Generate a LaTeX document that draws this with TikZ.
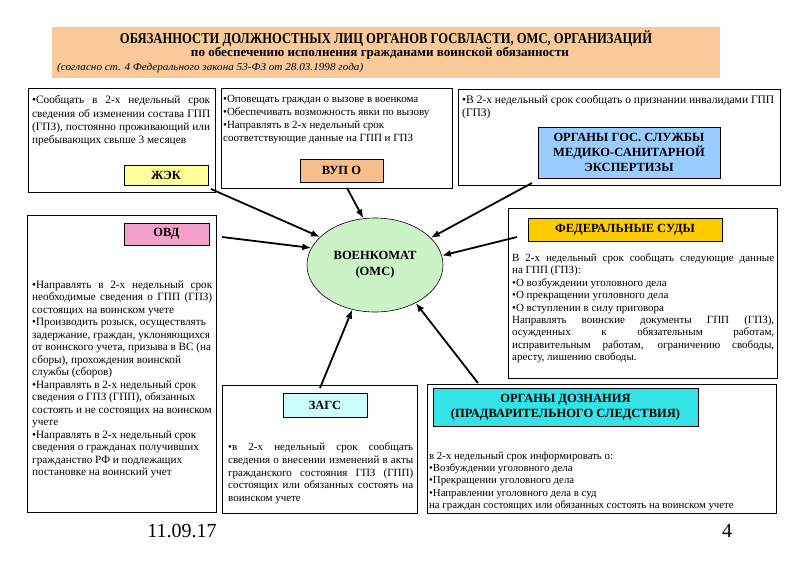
\documentclass[tikz,border=0pt]{standalone}
\usepackage{fontspec}
\usepackage{graphicx}
\setmainfont{Liberation Serif}
\usetikzlibrary{shapes.geometric,arrows.meta}
\definecolor{hdr}{HTML}{F9C99A}
\definecolor{czhek}{HTML}{FFFF99}
\definecolor{cvup}{HTML}{F7BE8A}
\definecolor{cmed}{HTML}{99CCFF}
\definecolor{covd}{HTML}{F4A0CC}
\definecolor{cfed}{HTML}{FFCC00}
\definecolor{czags}{HTML}{CCFFFF}
\definecolor{cdozn}{HTML}{33E3E6}
\definecolor{cvk}{HTML}{CCF2C8}
\newcommand\jl[2]{\makebox[#1][s]{#2}}
\begin{document}
\begin{tikzpicture}[x=1pt,y=-1pt,
  obox/.style={draw=black,line width=0.9pt,fill=white,inner sep=0pt},
  lbl/.style={draw=black,line width=0.6pt,inner sep=0pt,align=center,
    font=\fontsize{12.5}{15}\selectfont\bfseries},
  txt/.style={inner sep=0pt,anchor=north west,align=left},
  arr/.style={line width=1.8pt,-{Latex[length=9pt,width=7pt]}}]
\useasboundingbox[fill=white] (0,0) rectangle (800,565);
% header
\node[fill=hdr,minimum width=668pt,minimum height=51pt,inner sep=0pt] (hdr) at (386,52.5) {};
\node[inner sep=0pt] (t1) at (386,38.5) {\resizebox{532pt}{\height}{\fontsize{15}{16}\selectfont\bfseries ОБЯЗАННОСТИ ДОЛЖНОСТНЫХ ЛИЦ ОРГАНОВ ГОСВЛАСТИ, ОМС, ОРГАНИЗАЦИЙ}};
\node[inner sep=0pt] (t2) at (380,53.5) {\resizebox{378pt}{\height}{\fontsize{13}{15}\selectfont\bfseries по обеспечению исполнения гражданами воинской обязанности}};
\node[inner sep=0pt,anchor=west] (t3) at (57,67.5) {\resizebox{306pt}{\height}{\fontsize{10.5}{12}\selectfont\itshape (согласно ст. 4 Федерального закона 53-ФЗ от 28.03.1998 года)}};
% outer boxes
\node[obox,minimum width=187pt,minimum height=104pt] (bA) at (121.5,140) {};
\node[obox,minimum width=231pt,minimum height=100pt] (bB) at (336.5,138) {};
\node[obox,minimum width=322pt,minimum height=96pt] (bC) at (619,137) {};
\node[obox,minimum width=189pt,minimum height=297pt] (bD) at (121.5,363.5) {};
\node[obox,minimum width=269pt,minimum height=170pt] (bE) at (642.5,293) {};
\node[obox,minimum width=195pt,minimum height=128pt] (bF) at (319.5,449) {};
\node[obox,minimum width=349pt,minimum height=129pt] (bG) at (601.5,448.5) {};
% texts
\node[txt,font=\fontsize{11.3}{13.3}\selectfont] (tA) at (32,95.5) {%
\jl{178pt}{\textbullet Сообщать в 2-х недельный срок}\\
\jl{178pt}{сведения об изменении состава ГПП}\\
\jl{178pt}{(ГПЗ), постоянно проживающий или}\\
пребывающих свыше 3 месяцев};
\node[txt,font=\fontsize{11}{12.7}\selectfont] (tB) at (223,95.5) {%
\textbullet Оповещать граждан о вызове в военкома\\
\textbullet Обеспечивать возможность явки по вызову\\
\textbullet Направлять в 2-х недельный срок\\
соответствующие данные на ГПП и ГПЗ};
\node[txt,font=\fontsize{11.5}{12.4}\selectfont] (tC) at (462,95.5) {%
\textbullet В 2-х недельный срок сообщать о признании инвалидами ГПП\\
(ГПЗ)};
\node[txt,font=\fontsize{11.2}{12.5}\selectfont] (tD) at (32,280.5) {%
\jl{180pt}{\textbullet Направлять в 2-х недельный срок}\\
\jl{180pt}{необходимые сведения о ГПП (ГПЗ)}\\
состоящих на воинском учете\\
\textbullet Производить розыск, осуществлять\\
задержание, граждан, уклоняющихся\\
от воинского учета, призыва в ВС (на\\
сборы), прохождения воинской\\
службы (сборов)\\
\textbullet Направлять в 2-х недельный срок\\
сведения о ГПЗ (ГПП), обязанных\\
состоять и не состоящих на воинском\\
учете\\
\textbullet Направлять в 2-х недельный срок\\
сведения о гражданах получивших\\
гражданство РФ и подлежащих\\
постановке на воинский учет};
\node[txt,font=\fontsize{11}{12.4}\selectfont] (tE) at (512,253.5) {%
\jl{262pt}{В 2-х недельный срок сообщать следующие данные}\\
на ГПП (ГПЗ):\\
\textbullet О возбуждении уголовного дела\\
\textbullet О прекращении уголовного дела\\
\textbullet О вступлении в силу приговора\\
\jl{262pt}{Направлять воинские документы ГПП (ГПЗ),}\\
\jl{262pt}{осужденных к обязательным работам,}\\
\jl{262pt}{исправительным работам, ограничению свободы,}\\
аресту, лишению свободы.};
\node[txt,font=\fontsize{11}{12.8}\selectfont] (tF) at (228,442.5) {%
\jl{185pt}{\textbullet в 2-х недельный срок сообщать}\\
\jl{185pt}{сведения о внесении изменений в акты}\\
\jl{185pt}{гражданского состояния ГПЗ (ГПП)}\\
\jl{185pt}{состоящих или обязанных состоять на}\\
воинском учете};
\node[txt,font=\fontsize{10.8}{12.3}\selectfont] (tG) at (429,451.5) {%
в 2-х недельный срок информировать о:\\
\textbullet Возбуждении уголовного дела\\
\textbullet Прекращении уголовного дела\\
\textbullet Направлении уголовного дела в суд\\
на граждан состоящих или обязанных состоять на воинском учете};
% labels
\node[lbl,fill=czhek,minimum width=84pt,minimum height=20pt] (zhek) at (166,175) {ЖЭК};
\node[lbl,fill=cvup,minimum width=83pt,minimum height=23pt] (vupo) at (341.5,170.5) {ВУП О};
\node[lbl,fill=cmed,minimum width=182pt,minimum height=51pt] (med) at (629,152.5) {ОРГАНЫ ГОС. СЛУЖБЫ\\МЕДИКО-САНИТАРНОЙ\\ЭКСПЕРТИЗЫ};
\node[lbl,fill=covd,minimum width=85pt,minimum height=22pt] (ovd) at (166.5,234) {ОВД};
\node[lbl,fill=cfed,minimum width=194pt,minimum height=23pt] (fed) at (625,229.5) {ФЕДЕРАЛЬНЫЕ СУДЫ};
\node[lbl,fill=czags,minimum width=84pt,minimum height=24pt] (zags) at (325,405) {ЗАГС};
\node[lbl,fill=cdozn,minimum width=265pt,minimum height=38pt,font=\fontsize{12.5}{14.5}\selectfont\bfseries] (dozn) at (565.5,407) {ОРГАНЫ ДОЗНАНИЯ\\(ПРАДВАРИТЕЛЬНОГО СЛЕДСТВИЯ)};
% center
\node[ellipse,draw=black,line width=0.6pt,fill=cvk,minimum width=136pt,minimum height=94pt,inner sep=0pt,align=center,font=\fontsize{12.5}{16}\selectfont\bfseries] (vk) at (375,265) {ВОЕНКОМАТ\\(ОМС)};
% arrow starts
\coordinate (s1) at (211,189);
\coordinate (s2) at (347,188);
\coordinate (s3) at (222,237);
\coordinate (s4) at (532,183);
\coordinate (s5) at (517,237);
\coordinate (s6) at (320,388);
\coordinate (s7) at (478,383);
\draw[arr] (s1) -- (vk.153);
\draw[arr] (s2) -- (vk.104);
\draw[arr] (s3) -- (vk.165);
\draw[arr] (s4) -- (vk.26);
\draw[arr] (s5) -- (vk.8);
\draw[arr] (s6) -- (vk.243);
\draw[arr] (s7) -- (vk.317);
% footer
\node[inner sep=0pt,font=\fontsize{20}{24}\selectfont] (date) at (182,531) {11.09.17};
\node[inner sep=0pt,font=\fontsize{20}{24}\selectfont] (pg) at (727,531) {4};
\end{tikzpicture}
\end{document}
